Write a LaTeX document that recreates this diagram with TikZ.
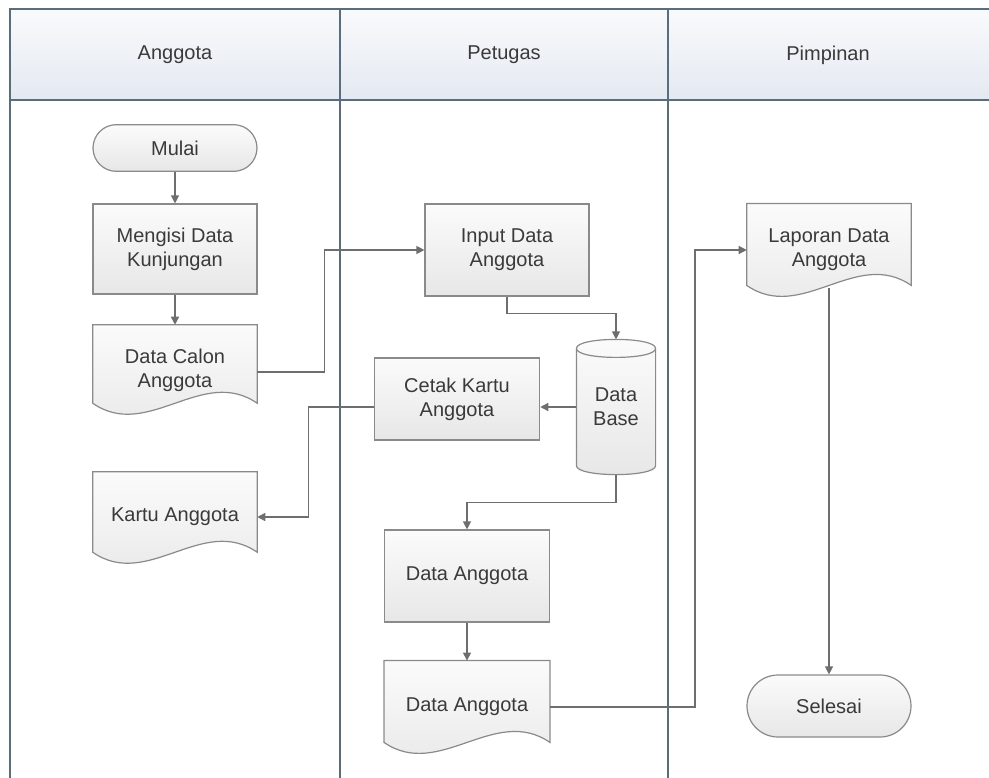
\documentclass[tikz,border=0pt]{standalone}
\usepackage{fontspec}
\setmainfont{Liberation Sans}
\usetikzlibrary{shapes.misc,arrows.meta,calc}
\definecolor{lane}{HTML}{586D80}
\definecolor{hdtop}{HTML}{F9FAFC}
\definecolor{hdbot}{HTML}{E4E9F1}
\definecolor{edge}{HTML}{8A8A8A}
\definecolor{wire}{HTML}{6E6E6E}
\definecolor{ink}{HTML}{3A3A3A}
\definecolor{boxtop}{HTML}{FBFBFB}
\definecolor{boxbot}{HTML}{E7E7E7}
\begin{document}
\begin{tikzpicture}[x=0.75pt,y=-0.75pt,
  every node/.style={text=ink,font=\fontsize{15}{18}\selectfont,align=center},
  procbox/.style={rectangle,draw=edge,line width=0.9pt,top color=boxtop,bottom color=boxbot,
    minimum width=123pt,minimum height=68pt,inner sep=0pt},
  termbox/.style={rounded rectangle,draw=edge,line width=0.9pt,top color=boxtop,bottom color=boxbot,
    minimum width=123pt,minimum height=35pt,inner sep=0pt},
  docarea/.style={rectangle,minimum width=123pt,minimum height=60pt,inner sep=0pt},
  shapefill/.style={draw=edge,line width=0.9pt,top color=boxtop,bottom color=boxbot},
  flow/.style={draw=wire,line width=1pt,-{Triangle[length=6pt,width=6pt]}},
  lanerule/.style={draw=lane,line width=1pt},
  ]
\useasboundingbox (0,0) rectangle (989,778);

% swimlane frame
\path[top color=hdtop,bottom color=hdbot] (10,9) rectangle (989,100);
\draw[lanerule] (989,9) -- (10,9) -- (10,778);
\draw[lanerule] (10,100) -- (989,100);
\draw[lanerule] (340,9) -- (340,778);
\draw[lanerule] (668,9) -- (668,778);
\node (hA) at (175,55) {Anggota};
\node (hP) at (504,55) {Petugas};
\node (hL) at (828,55) {Pimpinan};

% document shape with wavy bottom
\newcommand{\docoutline}[1]{%
  \path[shapefill] (#1.north west) -- (#1.north east) -- (#1.south east)
    .. controls ($(#1.south east)+(-55,-38)$) and ($(#1.south west)+(55,38)$) .. (#1.south west)
    -- cycle;}

% Anggota lane
\node[termbox] (mulai) at (175,148) {Mulai};
\node[procbox,minimum height=67.5pt] (mengisi) at (175,249) {Mengisi Data\\Kunjungan};
\node[docarea,minimum height=58.5pt] (calon) at (175,364) {};
\docoutline{calon}
\node (calonT) at ($(calon.center)+(0,6)$) {Data Calon\\Anggota};
\node[docarea,minimum height=60pt] (kartu) at (175,512) {};
\docoutline{kartu}
\node (kartuT) at ($(kartu.center)+(0,5)$) {Kartu Anggota};

% Petugas lane
\node[procbox,minimum height=69pt] (input) at (507,250) {Input Data\\Anggota};
\node[procbox,minimum width=124pt,minimum height=61.5pt] (cetak) at (457,399) {Cetak Kartu\\Anggota};
\node[rectangle,minimum width=59pt,minimum height=101pt,inner sep=0pt] (db) at (616,407) {};
\path[shapefill] ($(db.north west)+(0,9)$) -- ($(db.south west)+(0,-9)$)
  .. controls ($(db.south west)+(0,3)$) and ($(db.south east)+(0,3)$) .. ($(db.south east)+(0,-9)$)
  -- ($(db.north east)+(0,9)$)
  .. controls ($(db.north east)+(0,-3)$) and ($(db.north west)+(0,-3)$) .. ($(db.north west)+(0,9)$)
  -- cycle;
\draw[draw=edge,line width=0.9pt] ($(db.north west)+(0,9)$)
  .. controls ($(db.north west)+(0,21)$) and ($(db.north east)+(0,21)$) .. ($(db.north east)+(0,9)$);
\node (dbT) at (db.center) {Data\\Base};
\node[procbox,minimum width=124pt,minimum height=69pt] (dataA) at (467,576) {Data Anggota};
\node[docarea,minimum width=124pt,minimum height=61pt] (dataD) at (467,701.5) {};
\docoutline{dataD}
\node (dataDT) at ($(dataD.center)+(0,5)$) {Data Anggota};

% Pimpinan lane
\node[docarea,minimum height=61pt] (lap) at (829,244.5) {};
\docoutline{lap}
\node (lapT) at ($(lap.center)+(0,5)$) {Laporan Data\\Anggota};
\node[termbox,minimum height=46.5pt] (selesai) at (829,706) {Selesai};

% connectors
\draw[flow] (mulai.south) -- (mengisi.north);
\draw[flow] (mengisi.south) -- (calon.north);
\draw[flow] ($(calon.east)+(0,8)$) -- ++(67,0) |- (input.west);
\draw[flow] (input.south) -- ++(0,17) -| (db.north);
\draw[flow] (db.west) -- (db.west -| cetak.east);
\draw[flow] (cetak.west |- db.west) -- ++(-65,0) |- ($(kartu.east)+(0,5)$);
\draw[flow] (db.south) -- ++(0,28) -| (dataA.north);
\draw[flow] (dataA.south) -- (dataD.north);
\draw[flow] ($(dataD.east)+(0,5.5)$) -- ++(145,0) |- ($(lap.west)+(0,5.5)$);
\draw[flow] ($(lap.south)+(0,3)$) -- (selesai.north);
\end{tikzpicture}
\end{document}
